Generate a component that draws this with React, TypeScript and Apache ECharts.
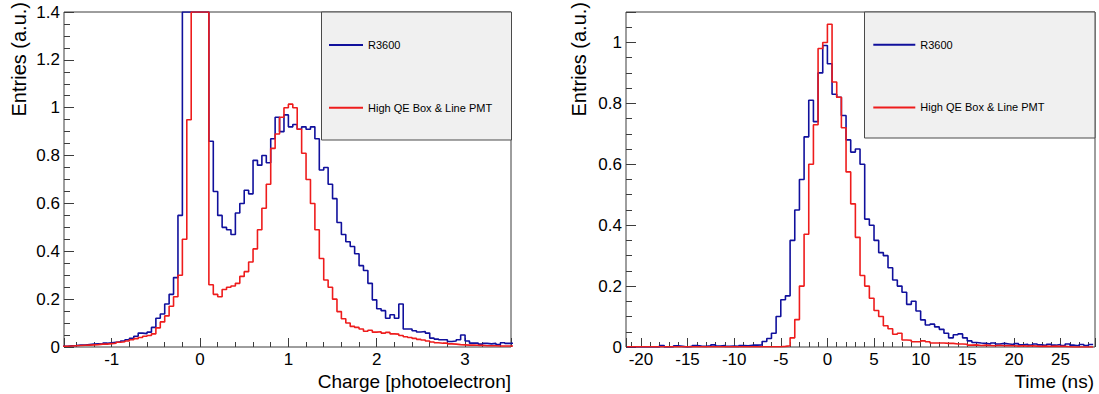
import React, { useEffect, useRef } from 'react';
import * as echarts from 'echarts';

const seriesNames = ['R3600', 'High QE Box & Line PMT'];
const seriesColors = ['#10109c', '#ee1c1c'];

// Left panel: charge histogram, bin width 0.05 pe, first bin edge -1.55
const chargeBinStart = -1.55;
const chargeBinWidth = 0.05;
const chargeR3600 = [
  0.003, 0.005, 0.006, 0.008, 0.008, 0.010, 0.012, 0.013, 0.012, 0.016,
  0.018, 0.020, 0.022, 0.025, 0.030, 0.036, 0.045, 0.058, 0.056, 0.062,
  0.082, 0.12, 0.138, 0.18, 0.22, 0.29, 0.55, 1.4, 1.4, 1.4,
  1.4, 1.4, 1.4, 0.86, 0.65, 0.55, 0.50, 0.49, 0.47, 0.56,
  0.60, 0.655, 0.64, 0.78, 0.76, 0.80, 0.77, 0.87, 0.96, 0.90,
  0.97, 0.92, 0.93, 0.91, 0.92, 0.91, 0.92, 0.87, 0.74, 0.75,
  0.68, 0.62, 0.52, 0.47, 0.44, 0.42, 0.39, 0.34, 0.32, 0.266,
  0.197, 0.16, 0.152, 0.12, 0.135, 0.12, 0.18, 0.075, 0.075, 0.068,
  0.063, 0.065, 0.058, 0.037, 0.033, 0.030, 0.030, 0.023, 0.025, 0.030,
  0.05, 0.025, 0.016, 0.016, 0.012, 0.015, 0.013, 0.015, 0.010, 0.018,
  0.015, 0.016,
];
const chargeHighQE = [
  0.003, 0.004, 0.005, 0.006, 0.007, 0.008, 0.009, 0.010, 0.012, 0.012,
  0.014, 0.016, 0.020, 0.022, 0.025, 0.030, 0.035, 0.040, 0.045, 0.048,
  0.055, 0.08, 0.105, 0.13, 0.17, 0.21, 0.30, 0.45, 0.95, 1.4,
  1.4, 1.4, 1.4, 0.26, 0.22, 0.21, 0.24, 0.25, 0.255, 0.266,
  0.295, 0.315, 0.355, 0.41, 0.49, 0.58, 0.68, 0.83, 0.89, 0.96,
  1.0, 1.015, 1.0, 0.91, 0.81, 0.70, 0.60, 0.49, 0.37, 0.28,
  0.25, 0.20, 0.148, 0.118, 0.10, 0.086, 0.082, 0.075, 0.066, 0.070,
  0.062, 0.064, 0.058, 0.061, 0.055, 0.054, 0.048, 0.043, 0.040, 0.036,
  0.032, 0.029, 0.025, 0.021, 0.018, 0.016, 0.016, 0.013, 0.012, 0.010,
  0.009, 0.008, 0.008, 0.007, 0.007, 0.005, 0.005, 0.005, 0.004, 0.004,
  0.004, 0.004,
];

// Right panel: time histogram, bin width 0.5 ns, first bin edge -21.5
const timeBinStart = -21.5;
const timeBinWidth = 0.5;
const timeR3600 = [
  0, 0, 0.001, 0, 0, 0.001, 0, 0.005, 0, 0.001,
  0.004, 0.002, 0, 0.002, 0.005, 0.003, 0.002, 0.004, 0.007, 0.003,
  0.005, 0.002, 0.003, 0.002, 0.005, 0.004, 0.006, 0.006, 0.007, 0.018,
  0.028, 0.045, 0.10, 0.155, 0.168, 0.35, 0.45, 0.55, 0.69, 0.81,
  0.74, 0.90, 0.99, 0.93, 0.83, 0.82, 0.76, 0.68, 0.64, 0.65,
  0.60, 0.42, 0.40, 0.35, 0.31, 0.30, 0.26, 0.22, 0.20, 0.18,
  0.14, 0.15, 0.118, 0.089, 0.072, 0.075, 0.066, 0.058, 0.045, 0.03,
  0.04, 0.043, 0.03, 0.02, 0.015, 0.013, 0.012, 0.01, 0.013, 0.01,
  0.012, 0.01, 0.008, 0.011, 0.007, 0.009, 0.006, 0.01, 0.007, 0.005,
  0.009, 0.006, 0.008, 0.005, 0.01, 0.006, 0.004, 0.008, 0.005, 0.008,
];
const timeHighQE = [
  0.001, 0.001, 0.001, 0.001, 0.001, 0.001, 0.001, 0.001, 0.001, 0.001,
  0.001, 0.001, 0.001, 0.001, 0.001, 0.001, 0.001, 0.001, 0.001, 0.001,
  0.001, 0.001, 0.001, 0.001, 0.001, 0.001, 0.001, 0.001, 0.001, 0.001,
  0.001, 0.001, 0.001, 0.002, 0.004, 0.03, 0.09, 0.2, 0.37, 0.6,
  0.73, 0.98, 1.0, 1.06, 0.87, 0.82, 0.72, 0.575, 0.47, 0.36,
  0.235, 0.2, 0.16, 0.12, 0.1, 0.07, 0.06, 0.042, 0.045, 0.023,
  0.022, 0.017, 0.017, 0.02, 0.017, 0.013, 0.013, 0.013, 0.012, 0.012,
  0.01, 0.01, 0.009, 0.006, 0.007, 0.005, 0.006, 0.005, 0.004, 0.006,
  0.004, 0.005, 0.004, 0.003, 0.004, 0.003, 0.004, 0.003, 0.002, 0.003,
  0.002, 0.003, 0.002, 0.002, 0.001, 0, 0, 0, 0, 0,
];

const chargeXRange = [-1.54, 3.52];
const chargeYRange = [0, 1.4];
const timeXRange = [-21.6, 28.7];
const timeYRange = [0, 1.1];

const chargeXTitle = 'Charge [photoelectron]';
const timeXTitle = 'Time (ns)';
const yTitle = 'Entries (a.u.)';

const FONT = "'Liberation Sans', Arial, Helvetica, sans-serif";
const FRAME = '#3c3c3c';

function histPoints(start: number, width: number, values: number[]) {
  const pts: number[][] = values.map((v, i) => [Number((start + i * width).toFixed(4)), v]);
  pts.push([Number((start + values.length * width).toFixed(4)), values[values.length - 1]]);
  return pts;
}

function multipleFormatter(step: number, decimals: number) {
  return (v: number) => {
    const q = v / step;
    const k = Math.round(q);
    return Math.abs(q - k) < 1e-6 ? String(Number((k * step).toFixed(decimals))) : '';
  };
}

function majorAxis(gridIndex: number, range: number[], step: number, decimals: number, tickLen: number, isX: boolean) {
  return {
    type: 'value',
    gridIndex,
    min: range[0],
    max: range[1],
    minInterval: step,
    maxInterval: step,
    position: isX ? 'bottom' : 'left',
    offset: 0,
    axisLine: { show: false, onZero: false },
    axisTick: { show: true, inside: true, length: tickLen, lineStyle: { color: FRAME, width: 1 } },
    axisLabel: {
      show: true,
      formatter: multipleFormatter(step, decimals),
      fontSize: 17,
      fontFamily: FONT,
      color: '#000',
      margin: 4,
      showMinLabel: true,
      showMaxLabel: true,
    },
    splitLine: { show: false },
  };
}

function minorAxis(gridIndex: number, range: number[], step: number, tickLen: number, isX: boolean) {
  return {
    type: 'value',
    gridIndex,
    min: range[0],
    max: range[1],
    minInterval: step,
    maxInterval: step,
    position: isX ? 'bottom' : 'left',
    offset: 0,
    axisLine: { show: false, onZero: false },
    axisTick: { show: true, inside: true, length: tickLen, lineStyle: { color: FRAME, width: 1 } },
    axisLabel: { show: false },
    splitLine: { show: false },
  };
}

function histSeries(name: string, color: string, xi: number, yi: number, data: number[][], z: number) {
  return {
    name,
    type: 'line',
    xAxisIndex: xi,
    yAxisIndex: yi,
    data,
    step: 'end',
    symbol: 'none',
    showSymbol: false,
    silent: true,
    clip: true,
    z,
    color,
    lineStyle: { color, width: 1.6 },
    itemStyle: { color },
    emphasis: { disabled: true },
  };
}

function legendFor(left: number, top: number, itemWidth: number) {
  return {
    data: seriesNames,
    orient: 'vertical',
    left,
    top,
    padding: 0,
    itemWidth,
    itemHeight: 2,
    icon: 'rect',
    itemGap: 51.7,
    selectedMode: false,
    z: 10,
    textStyle: { fontSize: 11, fontFamily: FONT, color: '#000' },
  };
}

function buildOption() {
  return {
    animation: false,
    backgroundColor: '#ffffff',
    grid: [
      { left: 64, top: 12, width: 447, height: 335, show: true, borderColor: FRAME, borderWidth: 1, backgroundColor: 'transparent' },
      { left: 626, top: 12, width: 469, height: 335, show: true, borderColor: FRAME, borderWidth: 1, backgroundColor: 'transparent' },
    ],
    xAxis: [
      majorAxis(0, chargeXRange, 1, 0, 9, true),
      minorAxis(0, chargeXRange, 0.2, 5, true),
      majorAxis(1, timeXRange, 5, 0, 9, true),
      minorAxis(1, timeXRange, 1, 5, true),
    ],
    yAxis: [
      majorAxis(0, chargeYRange, 0.2, 1, 10, false),
      minorAxis(0, chargeYRange, 0.05, 6, false),
      majorAxis(1, timeYRange, 0.2, 1, 10, false),
      minorAxis(1, timeYRange, 0.05, 6, false),
    ],
    legend: [legendFor(329, 39.5, 34), legendFor(873.3, 39.2, 42)],
    series: [
      histSeries(seriesNames[0], seriesColors[0], 0, 0, histPoints(chargeBinStart, chargeBinWidth, chargeR3600), 2),
      histSeries(seriesNames[1], seriesColors[1], 0, 0, histPoints(chargeBinStart, chargeBinWidth, chargeHighQE), 3),
      histSeries(seriesNames[0], seriesColors[0], 2, 2, histPoints(timeBinStart, timeBinWidth, timeR3600), 2),
      histSeries(seriesNames[1], seriesColors[1], 2, 2, histPoints(timeBinStart, timeBinWidth, timeHighQE), 3),
    ],
    graphic: {
      elements: [
        { type: 'rect', x: 321.5, y: 12, shape: { x: 0, y: 0, width: 190, height: 128 }, style: { fill: '#f0f0f0', stroke: '#4a4a4a', lineWidth: 1 }, z: 5, silent: true },
        { type: 'rect', x: 864.5, y: 12, shape: { x: 0, y: 0, width: 230.5, height: 126 }, style: { fill: '#f0f0f0', stroke: '#4a4a4a', lineWidth: 1 }, z: 5, silent: true },
        { type: 'text', x: 19, y: 2, rotation: Math.PI / 2, style: { text: yTitle, fontSize: 20, fontFamily: FONT, fill: '#000', align: 'right', verticalAlign: 'middle' }, z: 6, silent: true },
        { type: 'text', x: 579, y: 2, rotation: Math.PI / 2, style: { text: yTitle, fontSize: 20, fontFamily: FONT, fill: '#000', align: 'right', verticalAlign: 'middle' }, z: 6, silent: true },
        { type: 'text', x: 511, y: 381, style: { text: chargeXTitle, fontSize: 19, fontFamily: FONT, fill: '#000', align: 'right', verticalAlign: 'middle' }, z: 6, silent: true },
        { type: 'text', x: 1094, y: 381, style: { text: timeXTitle, fontSize: 19, fontFamily: FONT, fill: '#000', align: 'right', verticalAlign: 'middle' }, z: 6, silent: true },
      ],
    },
  };
}

export default function App() {
  const ref = useRef<HTMLDivElement>(null);
  useEffect(() => {
    if (!ref.current) return;
    const chart = echarts.init(ref.current, null, { renderer: 'svg' });
    chart.setOption(buildOption() as any);
    return () => chart.dispose();
  }, []);
  return (
    <div
      ref={ref}
      style={{ position: 'fixed', left: 0, top: 0, width: 1099, height: 394, background: '#fff' }}
    />
  );
}
